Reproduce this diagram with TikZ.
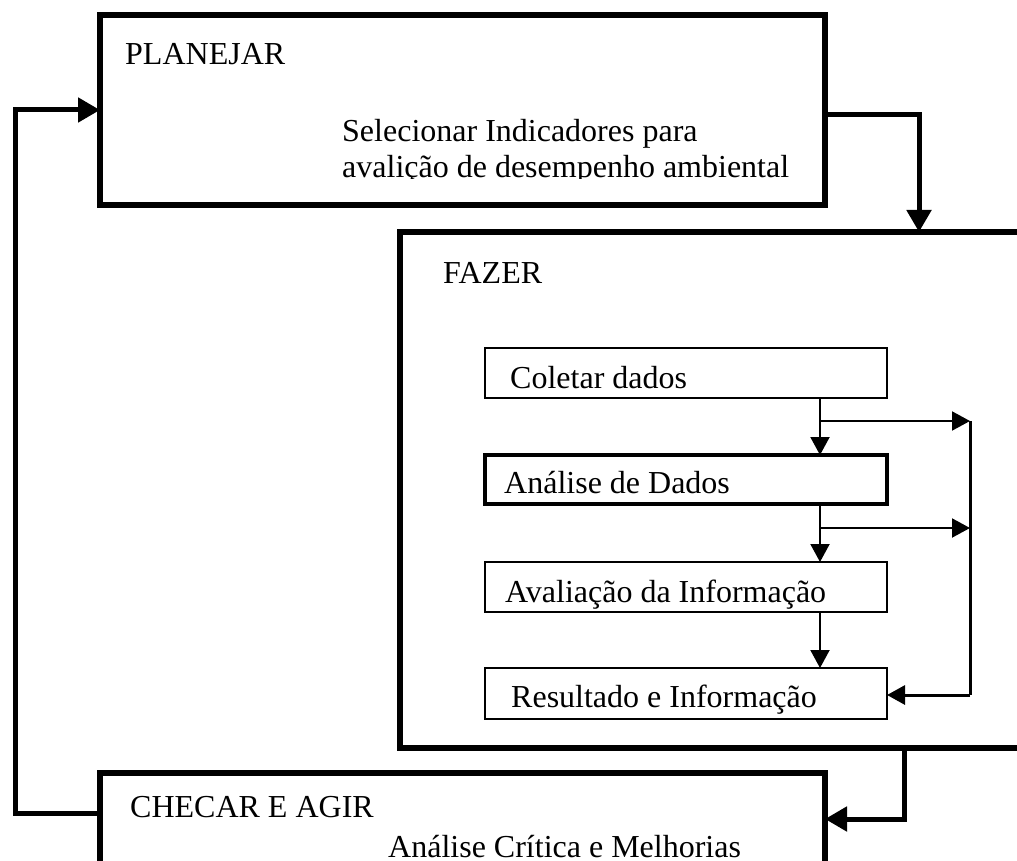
\documentclass[tikz,border=0pt]{standalone}
\usepackage{fontspec}
\setmainfont{Liberation Serif}
\usetikzlibrary{arrows.meta}

\begin{document}
\begin{tikzpicture}[x=1pt, y=-1pt, font=\fontsize{32}{37}\selectfont, line join=miter,
	bigbox/.style={draw, line width=5.5pt, inner sep=0pt, outer sep=0pt},
	smallbox/.style={draw, line width=2pt, inner sep=0pt, outer sep=0pt},
	bigarrow/.style={line width=5pt, -{Triangle[width=24pt,length=22pt]}},
	smallarrow/.style={line width=2pt, -{Triangle[width=19pt,length=18pt]}},
	lbl/.style={anchor=base west, inner sep=0pt}]
	\useasboundingbox (0,0) rectangle (1017,861);
	\clip (0,0) rectangle (1017,861);
	% the three stages
	\node[bigbox, minimum width=725pt, minimum height=190pt] (plan) at (462.5,110) {};
	\node[bigbox, minimum width=640pt, minimum height=516pt] (fazer) at (720,490) {};
	\node[bigbox, minimum width=725pt, minimum height=127pt] (check) at (462.5,836.5) {};
	% steps inside FAZER
	\node[smallbox, minimum width=402pt, minimum height=50pt] (coletar) at (686,373) {};
	\node[smallbox, line width=3.5pt, minimum width=402pt, minimum height=49pt] (analise) at (686,479.5) {};
	\node[smallbox, minimum width=402pt, minimum height=50pt] (avalia) at (686,587) {};
	\node[smallbox, minimum width=402pt, minimum height=51pt] (result) at (686,693.5) {};
	% texts
	\node[lbl] (tplan) at (125,65) {PLANEJAR};
	\node[lbl] (tsel) at (342,142) {Selecionar Indicadores para};
	\begin{scope}
		\clip (100,150) rectangle (825,179);
		\node[lbl] (tava) at (342,178) {avalição de desempenho ambiental};
	\end{scope}
	\node[lbl] (tfazer) at (443,283) {FAZER};
	\node[lbl] (tcol) at (510,388) {Coletar dados};
	\node[lbl] (tana) at (504,493) {Análise de Dados};
	\node[lbl] (tava2) at (505,602) {Avaliação da Informação};
	\node[lbl] (tres) at (511,707) {Resultado e Informação};
	\node[lbl] (tcheck) at (130,817) {CHECAR E AGIR};
	\node[lbl] (tcrit) at (388,857) {Análise Crítica e Melhorias};
	% corner points
	\path
	(919,232) coordinate (pf)
	(904,819) coordinate (fc)
	(15,813) coordinate (fbB)
	(15,110) coordinate (fbT)
	(820,0) coordinate (spine)
	(970,421) coordinate (r1)
	(970,528) coordinate (r2)
	(970,695) coordinate (r3);
	% cycle
	\draw[bigarrow] ([yshift=-5pt]plan.east) -| (pf);
	\draw[bigarrow] (fc |- fazer.south) -- (fc) -- (fc -| check.east);
	\draw[bigarrow] (fbB -| check.west) -- (fbB) -- (fbT) -- (fbT -| plan.west);
	% flow inside FAZER
	\draw[smallarrow] (coletar.south -| spine) -- (analise.north -| spine);
	\draw[smallarrow] (analise.south -| spine) -- (avalia.north -| spine);
	\draw[smallarrow] (avalia.south -| spine) -- (result.north -| spine);
	\draw[smallarrow] (r1 -| spine) -- (r1);
	\draw[smallarrow] (r2 -| spine) -- (r2);
	\draw[line width=3pt] (r1) -- (r3);
	\draw[smallarrow, line width=3pt] (r3) -- (r3 -| result.east);
\end{tikzpicture}
\end{document}
